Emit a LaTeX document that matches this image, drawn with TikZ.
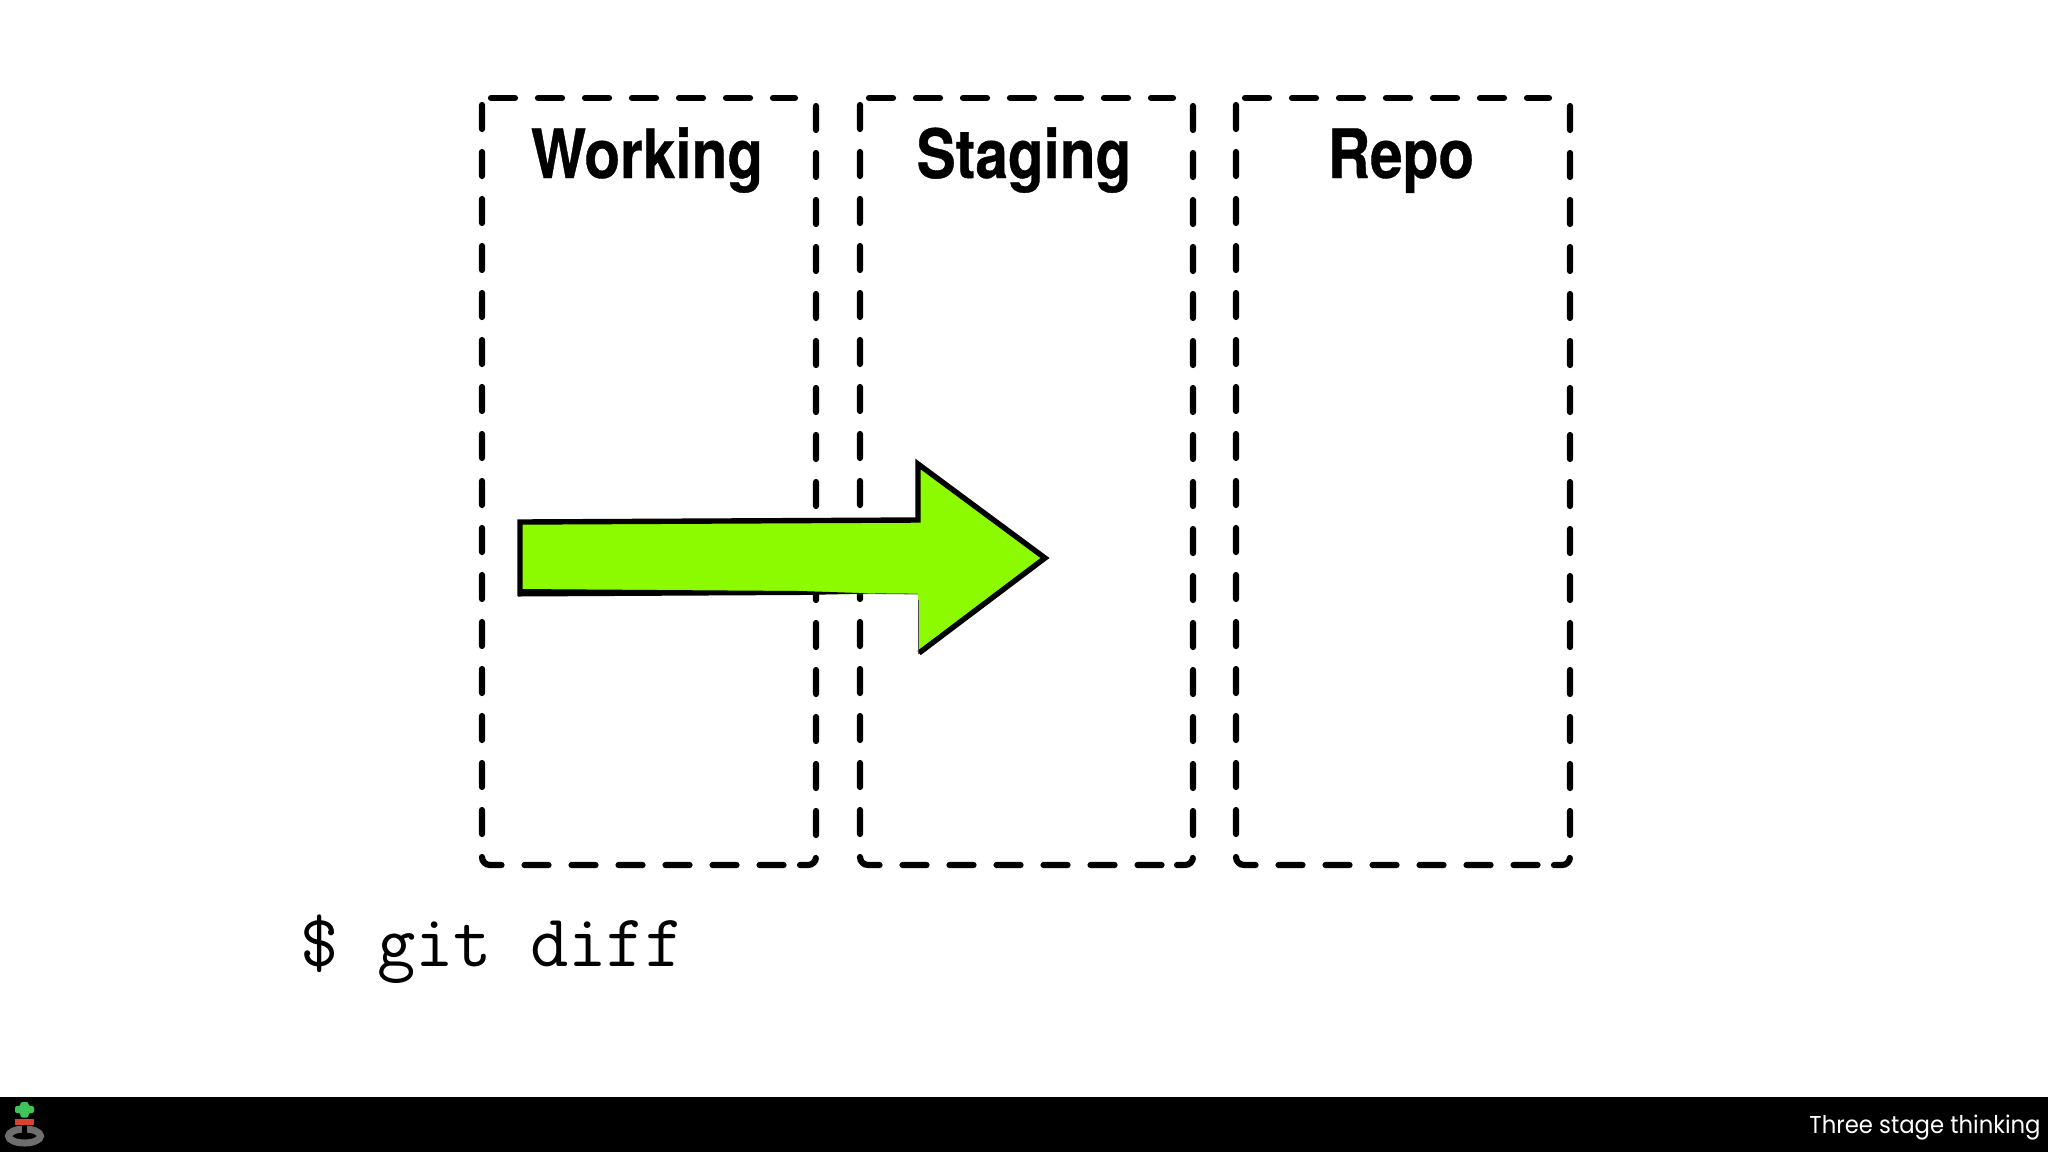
\documentclass[tikz,border=0pt]{standalone}
\usepackage{fontspec}
\setmainfont{TeX Gyre Heros}
\newfontfamily\headfont[UprightFont={* Bold},FakeStretch=0.86,FakeBold=0.5]{TeX Gyre Heros}
\newfontfamily\footfont[FakeStretch=0.933]{Poppins}
\definecolor{arrowgreen}{HTML}{8CFB00}
\definecolor{logogreen}{HTML}{3FC45C}
\definecolor{logored}{HTML}{D8432F}
\definecolor{ringgray}{HTML}{6E6E6E}
\tikzset{
  x=0.5pt,y=-0.5pt,
  zoneline/.style={draw=black,line width=3.1pt,line cap=round,rounded corners=4pt,dash pattern=on 12pt off 11.5pt},
  zonetitle/.style={anchor=base,inner sep=0pt,font=\headfont\fontsize{34}{40}\selectfont},
  cmdtext/.style={anchor=base west,inner sep=0pt,font=\ttfamily\fontsize{37.2}{40}\selectfont},
  foottext/.style={anchor=base east,inner sep=0pt,text=white,font=\footfont\fontsize{12.2}{16}\selectfont},
  edgeheavy/.style={draw=black,line width=2.7pt,line join=miter},
  edgelight/.style={draw=black!70,line width=0.4pt}
}
% one dashed zone, its left edge at #1, its width #2
\newcommand{\zonebox}[2]{%
  \begin{scope}[shift={(#1,0)}]
    \draw[zoneline] (9,98) -- (313,98);
    \draw[zoneline] (#2,106) -- (#2,865) -- (#2-16,865);
    \draw[zoneline] (0,105) -- (0,865) -- (308,865);
  \end{scope}}
\begin{document}
\begin{tikzpicture}
\useasboundingbox (0,0) rectangle (2048,1152);
\fill[white] (0,0) rectangle (2048,1152);
% zones
\zonebox{482}{334}
\zonebox{860}{333}
\zonebox{1236}{334}
\node[zonetitle] (working) at (647,178) {Working};
\node[zonetitle] (staging) at (1024,178) {Staging};
\node[zonetitle] (repo) at (1401,178) {Repo};
% arrow
\fill[arrowgreen] (520,522) -- (918,522) -- (918,464) -- (1045,558) -- (918,654) -- (918,594) -- (520,594) -- cycle;
\draw[edgeheavy] (520,596) -- (520,522) -- (918,520) -- (918,464) -- (1045,558) -- (919,653);
\fill[black] (518,589) -- (800,591) -- (875,593.5) -- (800,595) -- (518,596.5) -- cycle;
\draw[edgelight] (875,593.5) -- (918,594);
\draw[edgelight] (918,600) -- (918,654);
% command
\node[cmdtext] (cmd) at (300,966) {\$ git diff};
% footer bar
\fill[black] (0,1097) rectangle (2048,1152);
\node[foottext] (foot) at (2041,1133) {Three stage thinking};
% logo
\draw[ringgray,line width=3.5pt] (24.5,1136) ellipse (16 and 7);
\fill[black] (22,1125) rectangle (27,1137);
\fill[logored] (15,1118.5) rectangle (34,1125);
\fill[logogreen,rounded corners=1pt] (20.5,1102) -- (28.5,1102) -- (28.5,1106) -- (34,1106) -- (34,1113) -- (28.5,1113) -- (28.5,1117.5) -- (20.5,1117.5) -- (20.5,1113) -- (15,1113) -- (15,1106) -- (20.5,1106) -- cycle;
\end{tikzpicture}
\end{document}
